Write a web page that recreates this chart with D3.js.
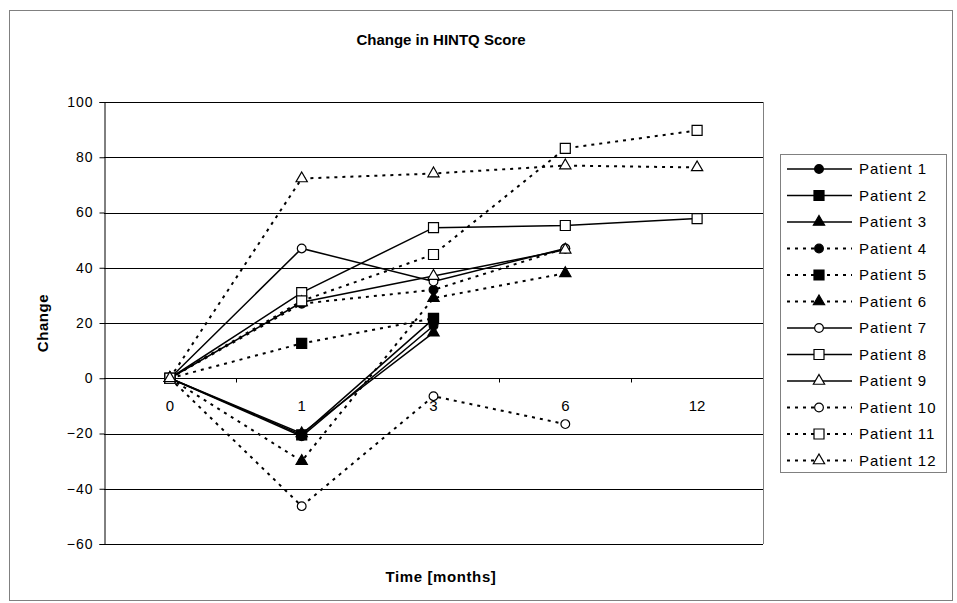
<!DOCTYPE html>
<html>
<head>
<meta charset="utf-8">
<script src="https://cdn.jsdelivr.net/npm/d3@7"></script>
<style>
  body { margin: 0; background: #fff; }
  text { font-family: Arial, "Liberation Sans", sans-serif; fill: #000; }
</style>
</head>
<body>
<script>
// chart data
var categories = ["0", "1", "3", "6", "12"];
var yTicks = [-60, -40, -20, 0, 20, 40, 60, 80, 100];
var patientNames = ["Patient 1", "Patient 2", "Patient 3", "Patient 4", "Patient 5", "Patient 6",
                    "Patient 7", "Patient 8", "Patient 9", "Patient 10", "Patient 11", "Patient 12"];
var patient1  = [0, -21, 19, null, null];
var patient2  = [0, -20.5, 21.5, null, null];
var patient3  = [0, -20, 16.5, null, null];
var patient4  = [0, 27, 32, 47, null];
var patient5  = [0, 12.6, 21.7, null, null];
var patient6  = [0, -30, 29, 38, null];
var patient7  = [0, 47, 35, 47, null];
var patient8  = [0, 31, 54.5, 55.3, 57.8];
var patient9  = [0, 27.5, 37, 46.5, null];
var patient10 = [0, -46.3, -6.5, -16.6, null];
var patient11 = [0, 28, 44.8, 83.2, 89.7];
var patient12 = [0, 72.3, 74.1, 77, 76.3];

var values = [patient1, patient2, patient3, patient4, patient5, patient6,
              patient7, patient8, patient9, patient10, patient11, patient12];
var shapes = ["circle", "square", "triangle"];

var width = 957, height = 603;
var svg = d3.select("body").append("svg")
    .attr("width", width)
    .attr("height", height);

// outer chart frame
svg.append("rect")
    .attr("x", 9.5).attr("y", 10.5)
    .attr("width", 943).attr("height", 590)
    .attr("fill", "white")
    .attr("stroke", "#808080");

// plot area bounds (window.top is reserved, so use other names)
var plotLeft = 104, plotRight = 763, plotTop = 102, plotBottom = 544;

var x = d3.scaleBand().domain(categories).range([plotLeft, plotRight]).padding(0);
var y = d3.scaleLinear().domain([-60, 100]).range([plotBottom, plotTop]);

// gridlines
svg.append("g").selectAll("line").data(yTicks).enter().append("line")
    .attr("x1", plotLeft).attr("x2", plotRight)
    .attr("y1", d => Math.round(y(d)) + 0.5).attr("y2", d => Math.round(y(d)) + 0.5)
    .attr("stroke", "#000").attr("stroke-width", 1);

// plot area right edge
svg.append("line")
    .attr("x1", plotRight + 0.5).attr("x2", plotRight + 0.5)
    .attr("y1", plotTop).attr("y2", plotBottom)
    .attr("stroke", "#808080");

// y axis
var yAxis = svg.append("g")
    .attr("transform", "translate(" + (plotLeft + 0.5) + ",0)")
    .call(d3.axisLeft(y).tickValues(yTicks).tickSize(5).tickPadding(6).tickFormat(d3.format("d")));
yAxis.select(".domain").attr("stroke", "#000");
yAxis.selectAll("text")
    .style("font-size", "14px")
    .style("letter-spacing", "1px")
    .style("font-family", "Arial, 'Liberation Sans', sans-serif");

// x axis on zero line, ticks between categories
var x0 = Math.round(y(0)) + 0.5;
var xAxis = svg.append("g")
    .attr("transform", "translate(0," + x0 + ")");
xAxis.append("line").attr("x1", plotLeft).attr("x2", plotRight).attr("stroke", "#000");
xAxis.selectAll(".tk").data(categories.slice(1)).enter().append("line")
    .attr("x1", d => Math.round(x(d)) + 0.5).attr("x2", d => Math.round(x(d)) + 0.5)
    .attr("y1", 0).attr("y2", 4)
    .attr("stroke", "#000");
xAxis.selectAll("text").data(categories).enter().append("text")
    .attr("x", d => x(d) + x.bandwidth() / 2)
    .attr("y", 32)
    .attr("text-anchor", "middle")
    .style("font-size", "15px")
    .text(d => d);

// titles
svg.append("text")
    .attr("x", 441).attr("y", 45)
    .attr("text-anchor", "middle")
    .style("font-size", "15px").style("font-weight", "bold")
    .text("Change in HINTQ Score");
svg.append("text")
    .attr("x", 441).attr("y", 582)
    .attr("text-anchor", "middle")
    .style("font-size", "15px").style("font-weight", "bold")
    .style("letter-spacing", "0.6px")
    .text("Time [months]");
svg.append("text")
    .attr("transform", "translate(48,323) rotate(-90)")
    .attr("text-anchor", "middle")
    .style("font-size", "15px").style("font-weight", "bold")
    .style("letter-spacing", "0.6px")
    .text("Change");

var symbolFor = function(i) {
    var s = shapes[i % 3];
    if (s === "circle") return d3.symbol().type(d3.symbolCircle).size(60)();
    if (s === "square") return d3.symbol().type(d3.symbolSquare).size(100)();
    return d3.symbol().type(d3.symbolTriangle).size(55)();
};
var isDotted = function(i) { return (i >= 3 && i <= 5) || i >= 9; };
var isFilled = function(i) { return i < 6; };

var line = d3.line()
    .defined(d => d.v != null)
    .x(d => x(d.c) + x.bandwidth() / 2)
    .y(d => y(d.v));

// series
values.forEach(function(vals, i) {
    var pts = categories.map((c, k) => ({c: c, v: vals[k]}));
    var g = svg.append("g").attr("class", "series");
    g.append("path")
        .datum(pts)
        .attr("d", line)
        .attr("fill", "none")
        .attr("stroke", "#000")
        .attr("stroke-width", isDotted(i) ? 2 : 1.5)
        .attr("stroke-dasharray", isDotted(i) ? "3,5" : null);
    g.selectAll("path.mk").data(pts.filter(d => d.v != null)).enter().append("path")
        .attr("class", "mk")
        .attr("d", symbolFor(i))
        .attr("transform", d => "translate(" + (x(d.c) + x.bandwidth() / 2) + "," + y(d.v) + ")")
        .attr("fill", isFilled(i) ? "#000" : "#fff")
        .attr("stroke", "#000")
        .attr("stroke-width", 1.2);
});

// legend
var lg = svg.append("g");
lg.append("rect")
    .attr("x", 780.5).attr("y", 154.5)
    .attr("width", 166).attr("height", 318)
    .attr("fill", "white")
    .attr("stroke", "#808080");
patientNames.forEach(function(name, i) {
    var ly = 169 + i * 26.5;
    lg.append("line")
        .attr("x1", 787).attr("x2", 852)
        .attr("y1", ly).attr("y2", ly)
        .attr("stroke", "#000")
        .attr("stroke-width", isDotted(i) ? 2 : 1.5)
        .attr("stroke-dasharray", isDotted(i) ? "3,5" : null);
    lg.append("path")
        .attr("d", symbolFor(i))
        .attr("transform", "translate(819," + ly + ")")
        .attr("fill", isFilled(i) ? "#000" : "#fff")
        .attr("stroke", "#000")
        .attr("stroke-width", 1.2);
    lg.append("text")
        .attr("x", 859).attr("y", ly + 5)
        .style("font-size", "15px")
        .style("letter-spacing", "1px")
        .text(name);
});
</script>
</body>
</html>
